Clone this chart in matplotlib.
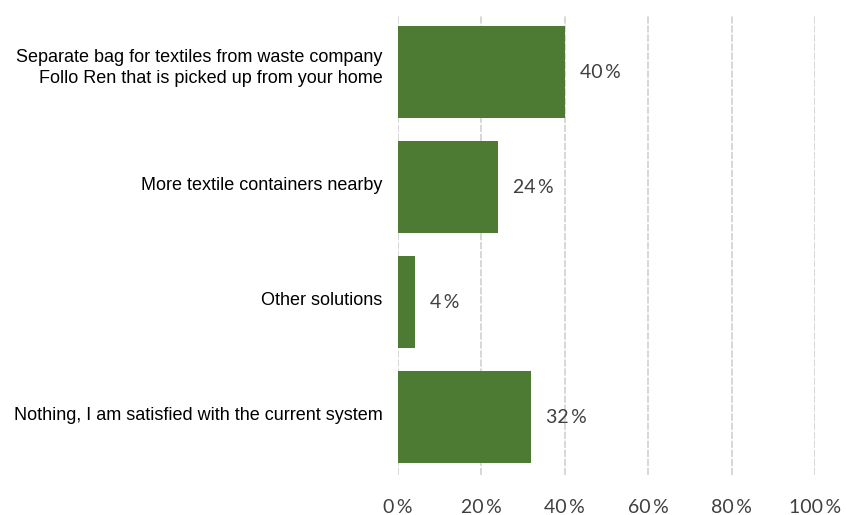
import matplotlib.pyplot as plt
import matplotlib.transforms as mtransforms
import numpy as np

categories = [
    'Separate bag for textiles from waste company\nFollo Ren that is picked up from your home',
    'More textile containers nearby',
    'Other solutions',
    'Nothing, I am satisfied with the current system',
]
values = [40, 24, 4, 32]
xticks = [0, 20, 40, 60, 80, 100]
tick_labels = ['0\u2009%', '20\u2009%', '40\u2009%', '60\u2009%', '80\u2009%', '100\u2009%']

bar_color = '#4e7b34'
text_color = '#404040'

fig = plt.figure(figsize=(8.46, 5.15), dpi=100)
ax = fig.add_axes([0.4704, 0.0777, 0.4930, 0.8932])

y = np.arange(len(categories))
ax.barh(y, values, height=0.8, color=bar_color, zorder=3)

ax.set_xlim(0, 100)
ax.set_ylim(len(categories) - 0.5, -0.5)
ax.set_xticks(xticks)
ax.set_xticklabels(tick_labels, fontsize=14, color=text_color, family='Lato')
ax.set_yticks(y)
ax.set_yticklabels(categories, fontsize=13, family='Liberation Sans', color='black',
                   ha='right', linespacing=1.3)
ax.tick_params(axis='both', length=0)
ax.tick_params(axis='x', pad=17)
ax.tick_params(axis='y', pad=11)

# category labels sit a touch above the bar centres
for i, lbl in enumerate(ax.get_yticklabels()):
    dy = 6 / 72 if i == 0 else 3 / 72
    lbl.set_transform(lbl.get_transform() + mtransforms.ScaledTranslation(0, dy, fig.dpi_scale_trans))

ax.grid(axis='x', color='#d4d4d4', linewidth=1.3, linestyle=(0, (4, 1)), zorder=0)
for s in ax.spines.values():
    s.set_visible(False)

for yi, v in zip(y, values):
    ax.text(v + 3.6, yi, f'{v}\u2009%', va='center', ha='left', fontsize=14,
            color=text_color, family='Lato')

fig.savefig('out.png', dpi=100)
